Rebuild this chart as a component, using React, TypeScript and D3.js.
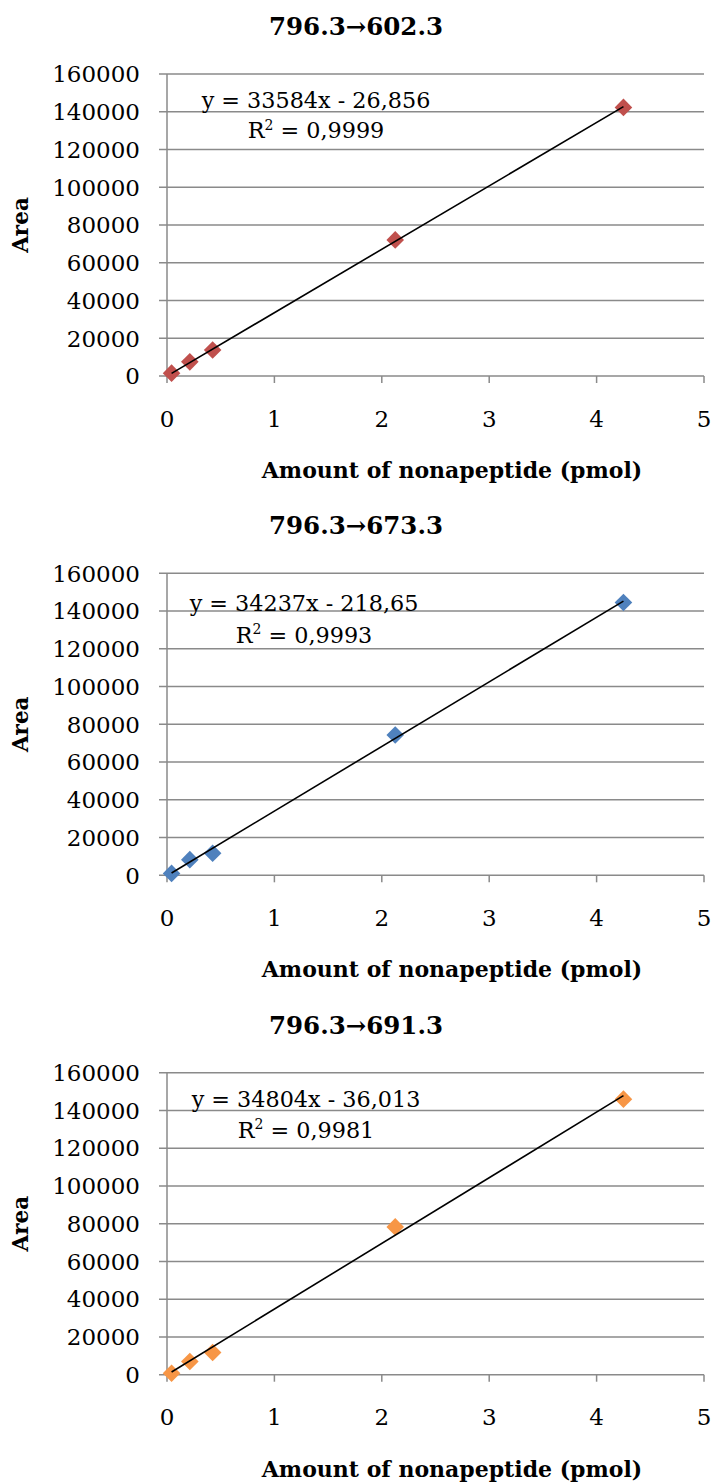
import React from "react";
import * as d3 from "d3";

// ---------- data ----------
const xValues = [0.0425, 0.2125, 0.425, 2.125, 4.25];
const titles = ["796.3→602.3", "796.3→673.3", "796.3→691.3"];
const area602 = [1500, 7500, 13800, 72100, 142300];
const area673 = [1000, 8300, 11700, 74300, 144500];
const area691 = [800, 7000, 11800, 78300, 146000];
const slopes = [33584, 34237, 34804];
const intercepts = [-26.856, -218.65, -36.013];
const eqLabels = ["y = 33584x - 26,856", "y = 34237x - 218,65", "y = 34804x - 36,013"];
const r2Labels = ["0,9999", "0,9993", "0,9981"];
const yTicks = [0, 20000, 40000, 60000, 80000, 100000, 120000, 140000, 160000];
const xTicks = [0, 1, 2, 3, 4, 5];
const colors = ["#C0504D", "#4F81BD", "#F79646"];
const xAxisTitle = "Amount of nonapeptide (pmol)";
const yAxisTitle = "Area";

const series = [area602, area673, area691];

// ---------- layout ----------
const W = 714;
const H = 1483;
const chartOffsets = [0, 499.3, 998.7];
const plot = { left: 167, right: 704, top: 74, bottom: 376 };
const eqX = [316, 304, 306];
const eqDy = [34, 37.5, 34];
const r2Dy = [64, 69.5, 65];
const FONT = "'DejaVu Serif', serif";
const GRID = "#8a8a8a";

function Chart({ idx }: { idx: number }) {
  const off = chartOffsets[idx];
  const x = d3.scaleLinear().domain([0, 5]).range([plot.left, plot.right]);
  const y = d3.scaleLinear().domain([0, 160000]).range([plot.bottom + off, plot.top + off]);
  const vals = series[idx];
  const color = colors[idx];
  const lineGen = d3
    .line<number>()
    .x((d) => x(d))
    .y((d) => y(slopes[idx] * d + intercepts[idx]));
  const trendX = [xValues[0], xValues[xValues.length - 1]];
  const r = 8.8;
  const topY = y(160000);
  const midY = (y(0) + y(160000)) / 2;
  return (
    <g>
      <text
        x={356}
        y={off + 35}
        textAnchor="middle"
        fontFamily={FONT}
        fontWeight="bold"
        fontSize={24.5}
      >
        {titles[idx]}
      </text>
      {yTicks.map((t) => (
        <g key={t}>
          <line x1={plot.left - 8} x2={plot.right} y1={y(t)} y2={y(t)} stroke={GRID} strokeWidth={1.5} />
          <text
            x={140}
            y={y(t)}
            dy="0.36em"
            textAnchor="end"
            fontFamily={FONT}
            fontSize={23}
          >
            {t}
          </text>
        </g>
      ))}
      <line x1={plot.left} x2={plot.left} y1={y(0)} y2={y(160000)} stroke={GRID} strokeWidth={1.5} />
      {xTicks.map((t) => (
        <g key={t}>
          <line x1={x(t)} x2={x(t)} y1={y(0)} y2={y(0) + 7} stroke={GRID} strokeWidth={1.5} />
          <text x={x(t)} y={y(0) + 50.5} textAnchor="middle" fontFamily={FONT} fontSize={23}>
            {t}
          </text>
        </g>
      ))}
      {vals.map((v, i) => {
        const cx = x(xValues[i]);
        const cy = y(v);
        return (
          <path
            key={i}
            d={`M${cx},${cy - r}L${cx + r},${cy}L${cx},${cy + r}L${cx - r},${cy}Z`}
            fill={color}
          />
        );
      })}
      <path d={lineGen(trendX) || ""} stroke="#000" strokeWidth={1.6} fill="none" />
      <text x={eqX[idx]} y={topY + eqDy[idx]} textAnchor="middle" fontFamily={FONT} fontSize={22.3}>
        {eqLabels[idx]}
      </text>
      <text x={eqX[idx]} y={topY + r2Dy[idx]} textAnchor="middle" fontFamily={FONT} fontSize={22.3}>
        R<tspan dy={-8.5} fontSize={14}>2</tspan>
        <tspan dy={8.5}>{" = " + r2Labels[idx]}</tspan>
      </text>
      <text
        transform={`translate(20,${midY}) rotate(-90)`}
        textAnchor="middle"
        dy="0.36em"
        fontFamily={FONT}
        fontWeight="bold"
        fontSize={21.5}
      >
        {yAxisTitle}
      </text>
      <text
        x={452}
        y={y(0) + 102}
        textAnchor="middle"
        fontFamily={FONT}
        fontWeight="bold"
        fontSize={22}
      >
        {xAxisTitle}
      </text>
    </g>
  );
}

export default function App() {
  React.useEffect(() => {
    document.body.style.margin = "0";
  }, []);
  return (
    <svg
      width={W}
      height={H}
      viewBox={`0 0 ${W} ${H}`}
      style={{ position: "absolute", left: 0, top: 0, display: "block", background: "#fff" }}
    >
      <rect width={W} height={H} fill="#fff" />
      {[0, 1, 2].map((i) => (
        <Chart key={i} idx={i} />
      ))}
    </svg>
  );
}
